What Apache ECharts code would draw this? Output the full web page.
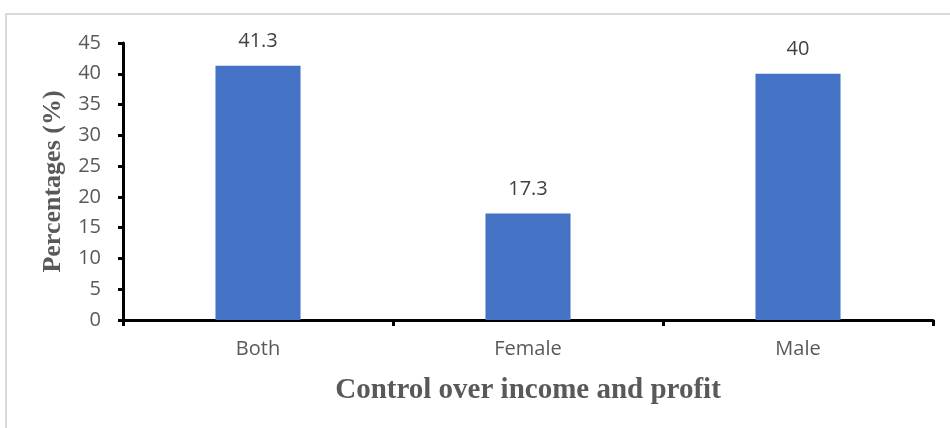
<!DOCTYPE html>
<html>
<head>
<meta charset="utf-8">
<script src="https://cdn.jsdelivr.net/npm/echarts@6/dist/echarts.min.js"></script>
<style>
  html, body { margin: 0; padding: 0; background: #fff; }
  #chart { width: 950px; height: 428px; }
</style>
</head>
<body>
<div id="chart"></div>
<script>
// data
const categories = ["Both", "Female", "Male"];
const percentages = [41.3, 17.3, 40];
const yTicks = [0, 5, 10, 15, 20, 25, 30, 35, 40, 45];

const chart = echarts.init(document.getElementById("chart"));

chart.setOption({
  animation: false,
  backgroundColor: "#fff",
  graphic: [{
    type: "rect",
    shape: { x: 6, y: 14, width: 960, height: 430 },
    style: { fill: "none", stroke: "#d9d9d9", lineWidth: 2 },
    silent: true
  }],
  grid: { left: 123, right: 17, top: 43, bottom: 108 },
  xAxis: {
    type: "category",
    data: categories,
    name: "Control over income and profit",
    nameLocation: "middle",
    nameGap: 56,
    nameTextStyle: {
      fontFamily: "Liberation Serif",
      fontWeight: "bold",
      fontSize: 29,
      color: "#595959"
    },
    axisLine: { lineStyle: { color: "#000", width: 3 } },
    axisTick: { show: true, length: 6, lineStyle: { color: "#000", width: 3 } },
    axisLabel: {
      fontFamily: "Open Sans",
      fontSize: 20,
      color: "#595959",
      margin: 19
    }
  },
  yAxis: {
    type: "value",
    min: yTicks[0],
    max: yTicks[yTicks.length - 1],
    interval: 5,
    name: "Percentages (%)",
    nameLocation: "middle",
    nameGap: 57,
    nameTextStyle: {
      fontFamily: "Liberation Serif",
      fontWeight: "bold",
      fontSize: 26,
      color: "#595959"
    },
    axisLine: { show: true, lineStyle: { color: "#000", width: 3 } },
    axisTick: { show: true, length: 5, lineStyle: { color: "#000", width: 3 } },
    splitLine: { show: false },
    axisLabel: {
      fontFamily: "Open Sans",
      fontSize: 20,
      color: "#595959",
      margin: 22
    }
  },
  series: [{
    type: "bar",
    data: percentages,
    barWidth: "31.5%",
    itemStyle: { color: "#4472c4" },
    label: {
      show: true,
      position: "top",
      distance: 14,
      fontFamily: "Open Sans",
      fontSize: 20,
      color: "#404040"
    }
  }]
});
</script>
</body>
</html>
